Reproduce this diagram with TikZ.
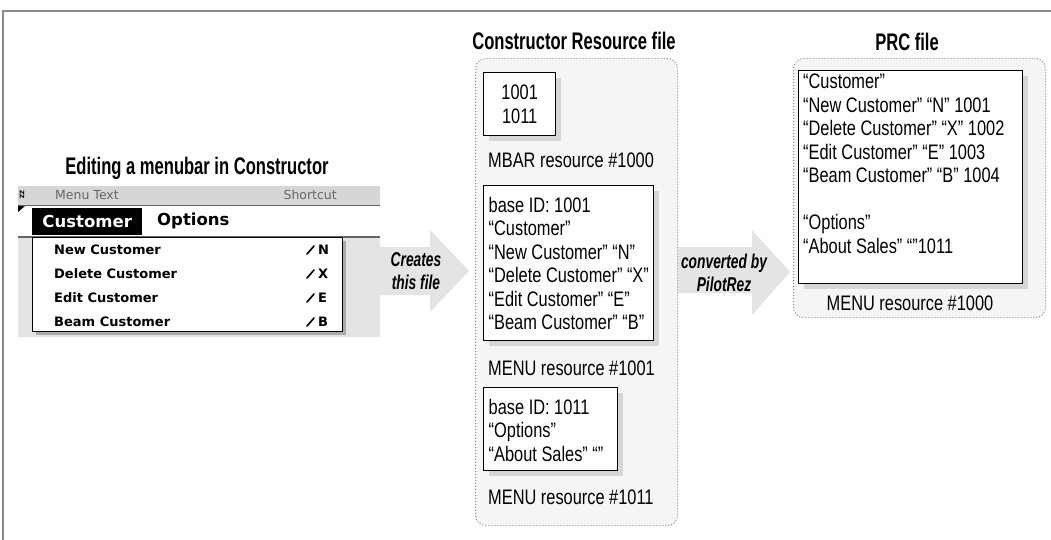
\documentclass[tikz,border=0pt]{standalone}
\usepackage{fontspec}
\usetikzlibrary{shadows}
\newfontfamily\cond{Liberation Sans}[FakeStretch=0.78]
\newfontfamily\condt{Liberation Sans}[FakeStretch=0.69]
\newfontfamily\palm{DejaVu Sans}
\definecolor{arrowgray}{HTML}{E4E4E4}
\definecolor{panel}{HTML}{F5F5F5}
\definecolor{strip}{HTML}{D6D6D6}
\definecolor{edge}{HTML}{8A8A8A}
\begin{document}
\begin{tikzpicture}[x=1pt,y=-1pt,
  title/.style={font=\condt\bfseries\fontsize{24}{28}\selectfont, inner sep=0pt},
  body/.style={font=\cond\fontsize{21}{23.5}\selectfont, inner sep=0pt, align=left},
  label/.style={font=\cond\fontsize{21}{23.5}\selectfont, inner sep=0pt},
  arrowtext/.style={font=\condt\bfseries\itshape\fontsize{20}{22.5}\selectfont, inner sep=0pt, align=center},
  res/.style={draw=black, line width=1.3pt, fill=white, inner sep=0pt, anchor=north west,
    drop shadow={shadow xshift=5pt,shadow yshift=-5pt,fill=black!28}},
  panelbox/.style={draw=edge, dotted, line width=1pt, fill=panel, rounded corners=10pt, inner sep=0pt, anchor=north west},
  blockarrow/.style={fill=arrowgray},
  menuitem/.style={font=\palm\bfseries\fontsize{13}{15}\selectfont, inner sep=0pt, anchor=west},
  hdrtext/.style={font=\palm\fontsize{12.5}{14}\selectfont, text=black!60, inner sep=0pt},
  stroke/.style={line width=1.6pt, line cap=round}
]
\useasboundingbox (0,0) rectangle (1051,540);
\fill[white] (0,0) rectangle (1051,540);
% frame
\draw[edge, line width=1.6pt] (3,540) -- (3,11) -- (1051,11);

% gray area under the menu and the "Creates" arrow
\fill[blockarrow] (18,237) -- (380,237) -- (380,247) -- (430,247) -- (430,230) -- (469,271)
  -- (430,312) -- (430,295) -- (380,295) -- (380,337) -- (18,337) -- cycle;
% "converted by" arrow
\fill[blockarrow] (677,247) -- (752,247) -- (752,230) -- (790,272) -- (752,315) -- (752,293)
  -- (677,293) -- cycle;

% containers
\node[panelbox, minimum width=202pt, minimum height=467pt] (crf) at (475,58) {};
\node[panelbox, minimum width=252pt, minimum height=259pt] (prc) at (793,58) {};

% titles
\node[title] (t1) at (574,41) {Constructor Resource file};
\node[title] (t2) at (907,42) {PRC file};
\node[title] (t3) at (197,168) {Editing a menubar in Constructor};

% menubar editor widget
\fill[strip] (18,186) rectangle (380,205);
\draw[black!60, line width=1.2pt] (18,205.5) -- (380,205.5);
\node[hdrtext, anchor=west] (mt) at (55,195) {Menu Text};
\node[hdrtext, anchor=east] (sc) at (337,195) {Shortcut};
\node[font=\palm\bfseries\fontsize{6}{6}\selectfont, rotate=-90, inner sep=0pt] (ic) at (22,195) {ZZ};
\fill[black] (18,206) -- (25,206) -- (18,212) -- cycle;
\node[fill=black, text=white, font=\palm\bfseries\fontsize{16.5}{18}\selectfont, inner sep=0pt,
  minimum width=110pt, minimum height=27pt, anchor=north west] (cust) at (32,208) {Customer};
\node[font=\palm\bfseries\fontsize{16.5}{18}\selectfont, inner sep=0pt, anchor=west] (opt) at (157,221) {Options};
\draw[black!60, line width=1.2pt] (18,237) -- (380,237);
\node[draw=black, line width=1.2pt, fill=white, inner sep=0pt, anchor=north west,
  minimum width=310pt, minimum height=94pt,
  drop shadow={shadow xshift=3pt,shadow yshift=-3pt,fill=black!55}] (drop) at (32,237) {};
\node[menuitem] (i1) at (54,250) {New Customer};
\node[menuitem] (i2) at (54,274) {Delete Customer};
\node[menuitem] (i3) at (54,298) {Edit Customer};
\node[menuitem] (i4) at (54,322) {Beam Customer};
\node[menuitem] (k1) at (318,250) {N};
\node[menuitem] (k2) at (318,274) {X};
\node[menuitem] (k3) at (318,298) {E};
\node[menuitem] (k4) at (318,322) {B};
\draw[stroke] (307,254) -- (314,246);
\draw[stroke] (307,278) -- (314,270);
\draw[stroke] (307,302) -- (314,294);
\draw[stroke] (307,326) -- (314,318);

% arrow texts
\node[arrowtext] (cr) at (416,271) {Creates\\this file};
\node[arrowtext] (cv) at (724,273) {converted by\\PilotRez};

% Constructor resource file contents
\node[res, minimum width=72pt, minimum height=63pt] (mbar) at (483,72) {};
\node[body, align=center] (mbart) at (mbar.center) {1001\\1011};
\node[label, anchor=west] (mbarl) at (488,160) {MBAR resource \#1000};

\node[res, minimum width=170pt, minimum height=155pt] (m1001) at (483,185) {};
\node[body, anchor=north west] (m1001t) at (488.5,197) {base ID: 1001\\
“Customer”\\
“New Customer” “N”\\
“Delete Customer” “X”\\
“Edit Customer” “E”\\
“Beam Customer” “B”};
\node[label, anchor=west] (m1001l) at (488,368) {MENU resource \#1001};

\node[res, minimum width=134pt, minimum height=83pt] (m1011) at (483,387) {};
\node[body, anchor=north west] (m1011t) at (488.5,399) {base ID: 1011\\
“Options”\\
“About Sales” “”};
\node[label, anchor=west] (m1011l) at (488,497) {MENU resource \#1011};

% PRC file contents
\node[res, minimum width=224pt, minimum height=213pt] (prcbox) at (798,70) {};
\node[body, anchor=north west] (prct) at (803,74) {“Customer”\\
“New Customer” “N” 1001\\
“Delete Customer” “X” 1002\\
“Edit Customer” “E” 1003\\
“Beam Customer” “B” 1004\\
\mbox{}\\
“Options”\\
“About Sales” “”1011};
\node[label] (prcl) at (910,303) {MENU resource \#1000};
\end{tikzpicture}
\end{document}
